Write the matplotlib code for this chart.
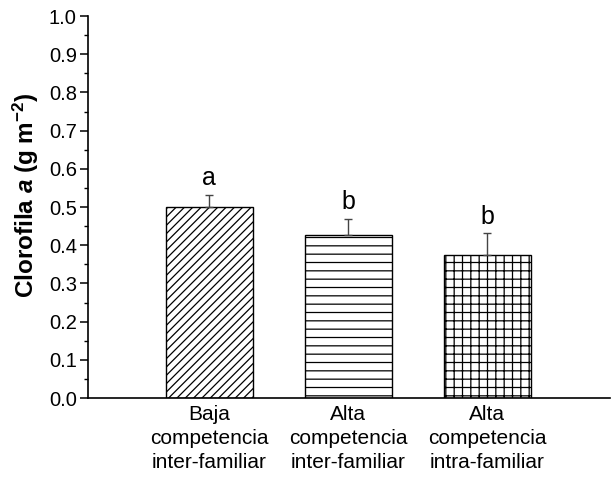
import matplotlib
matplotlib.use("Agg")
import matplotlib.pyplot as plt
from matplotlib.ticker import MultipleLocator

plt.rcParams['font.family'] = ['Liberation Sans', 'DejaVu Sans']
plt.rcParams['mathtext.fontset'] = 'custom'
plt.rcParams['mathtext.rm'] = 'Liberation Sans:bold'
plt.rcParams['mathtext.bf'] = 'Liberation Sans:bold'
plt.rcParams['mathtext.it'] = 'Liberation Sans:bold:italic'
plt.rcParams['hatch.linewidth'] = 0.9

# datos
categorias = ["Baja\ncompetencia\ninter-familiar",
              "Alta\ncompetencia\ninter-familiar",
              "Alta\ncompetencia\nintra-familiar"]
medias = [0.50, 0.426, 0.375]
errores = [0.031, 0.043, 0.056]
letras = ["a", "b", "b"]
tramas = ["////", "--", "++"]

fig = plt.figure(figsize=(6.11, 4.86), dpi=100)
ax = fig.add_axes([0.144, 0.181, 0.854, 0.786])

x = [1, 2, 3]
ax.bar(x, medias, width=0.625, color="white", edgecolor="black",
       linewidth=1.0, hatch=tramas, zorder=2)
ax.errorbar(x, medias, yerr=[[0, 0, 0], errores], fmt="none",
            ecolor="#444444", elinewidth=1.0, capsize=3, capthick=1.0, zorder=3)

for xi, m, e, l in zip(x, medias, errores, letras):
    ax.annotate(l, (xi, m + e), xytext=(0, 7), textcoords="offset points",
                ha="center", va="baseline", fontsize=18)

ax.set_xlim(0.13, 3.88)
ax.set_ylim(0, 1.0)
ax.set_xticks(x)
ax.set_xticklabels(categorias, fontsize=15, linespacing=1.35)
ax.tick_params(axis="x", length=0, pad=5)
ax.yaxis.set_major_locator(MultipleLocator(0.1))
ax.yaxis.set_minor_locator(MultipleLocator(0.05))
ax.yaxis.set_major_formatter(matplotlib.ticker.FormatStrFormatter("%.1f"))
ax.tick_params(axis="y", which="major", direction="out", length=6, width=1.1,
               labelsize=14.5, pad=2)
ax.tick_params(axis="y", which="minor", direction="out", length=3, width=1.0)

ax.spines["top"].set_visible(False)
ax.spines["right"].set_visible(False)
ax.spines["left"].set_linewidth(1.2)
ax.spines["bottom"].set_linewidth(1.2)

ax.set_ylabel(r"Clorofila $\it{a}$ (g m$^{\mathbf{-2}}$)", fontsize=17.5,
              fontweight="bold")
ax.yaxis.set_label_coords(-0.09, 0.53)

fig.savefig("out.png", dpi=100)
